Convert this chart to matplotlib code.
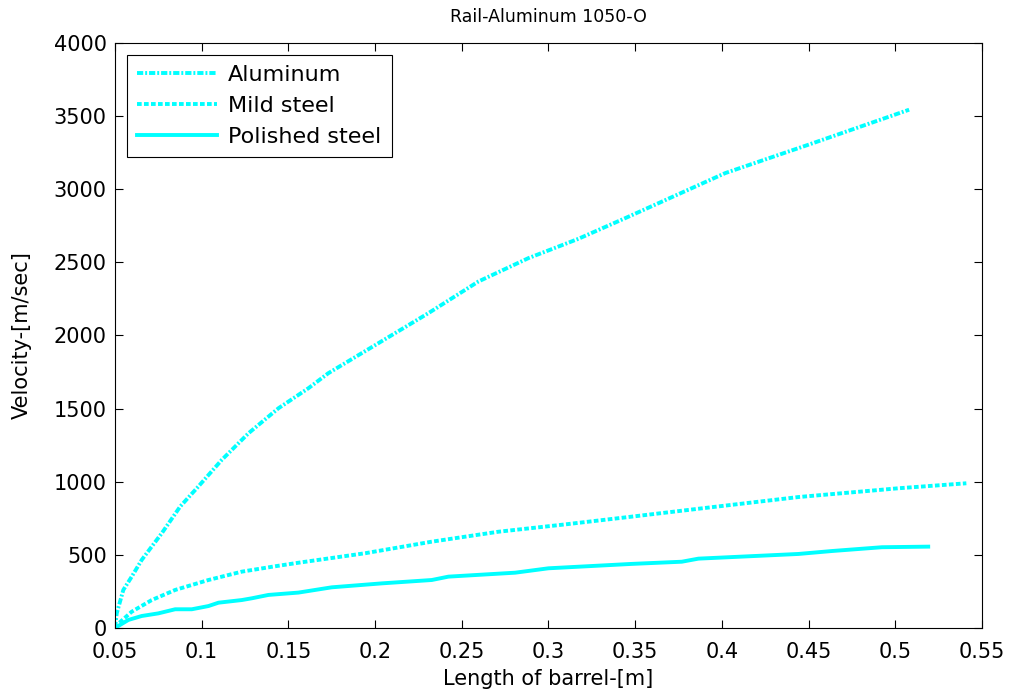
import matplotlib
matplotlib.use("Agg")
import matplotlib.pyplot as plt
from matplotlib.ticker import FuncFormatter

# barrel length [m] / velocity [m/sec]
alu_x = [0.05, 0.051, 0.0548, 0.0596, 0.0654, 0.077, 0.0876, 0.098, 0.1116, 0.127,
         0.1443, 0.1616, 0.173, 0.202, 0.2308, 0.2596, 0.2885, 0.3058, 0.3173, 0.3443,
         0.402, 0.45, 0.508]
alu_v = [0, 100, 260, 350, 465, 648, 830, 966, 1149, 1331,
         1502, 1639, 1741, 1947, 2152, 2368, 2528, 2607, 2660, 2801,
         3109, 3303, 3542]

mild_x = [0.05, 0.051, 0.0596, 0.0712, 0.0847, 0.1039, 0.1231, 0.1424, 0.1558, 0.1943,
          0.2327, 0.2712, 0.3096, 0.348, 0.3865, 0.4442, 0.5019, 0.541]
mild_v = [0, 20, 111, 191, 260, 328, 385, 422, 446, 511,
          590, 658, 708, 761, 815, 895, 955, 989]

pol_x = [0.05, 0.0577, 0.0654, 0.075, 0.0847, 0.0943, 0.1039, 0.1097, 0.1231, 0.1289,
         0.1385, 0.1558, 0.175, 0.2039, 0.2327, 0.2423, 0.2808, 0.3, 0.348, 0.3769,
         0.3865, 0.4442, 0.4634, 0.4923, 0.519]
pol_v = [0, 55, 82, 100, 128, 128, 150, 173, 191, 203,
         226, 242, 278, 305, 328, 351, 378, 408, 438, 453,
         474, 506, 526, 552, 556]

x_ticks = [0.05, 0.1, 0.15, 0.2, 0.25, 0.3, 0.35, 0.4, 0.45, 0.5, 0.55]
y_ticks = [0, 500, 1000, 1500, 2000, 2500, 3000, 3500, 4000]

plt.rcParams['font.family'] = ['DejaVu Sans']

fig = plt.figure(figsize=(10.14, 6.94), dpi=100)
ax = fig.add_axes([0.1134, 0.0951, 0.855, 0.8434])

lw = 2.8
ax.plot(alu_x, alu_v, color='cyan', lw=lw, linestyle=(0, (1.6, 0.5, 0.5, 0.5)), label='Aluminum')
ax.plot(mild_x, mild_v, color='cyan', lw=lw, linestyle=(0, (1.2, 0.6)), label='Mild steel')
ax.plot(pol_x, pol_v, color='cyan', lw=lw, linestyle='-', label='Polished steel')

ax.set_xlim(0.05, 0.55)
ax.set_ylim(0, 4000)
ax.set_xticks(x_ticks)
ax.set_yticks(y_ticks)
ax.xaxis.set_major_formatter(FuncFormatter(lambda v, p: '%g' % round(v, 3)))
ax.tick_params(direction='in', top=True, right=True, length=6, width=0.8,
               labelsize=15, pad=6)
ax.tick_params(axis='x', pad=10)
for s in ax.spines.values():
    s.set_linewidth(0.8)

ax.set_title('Rail-Aluminum 1050-O', fontsize=12.5, pad=15)
ax.set_xlabel('Length of barrel-[m]', fontsize=15, labelpad=5)
ax.set_ylabel('Velocity-[m/sec]', fontsize=15, labelpad=16)

leg = ax.legend(loc='upper left', fontsize=16, frameon=True, fancybox=False,
                edgecolor='black', framealpha=1, handlelength=3.6,
                labelspacing=0.5, borderaxespad=0.55, borderpad=0.45, handletextpad=0.5)
leg.get_frame().set_linewidth(0.8)

fig.savefig('out.png', dpi=100, facecolor='white')
